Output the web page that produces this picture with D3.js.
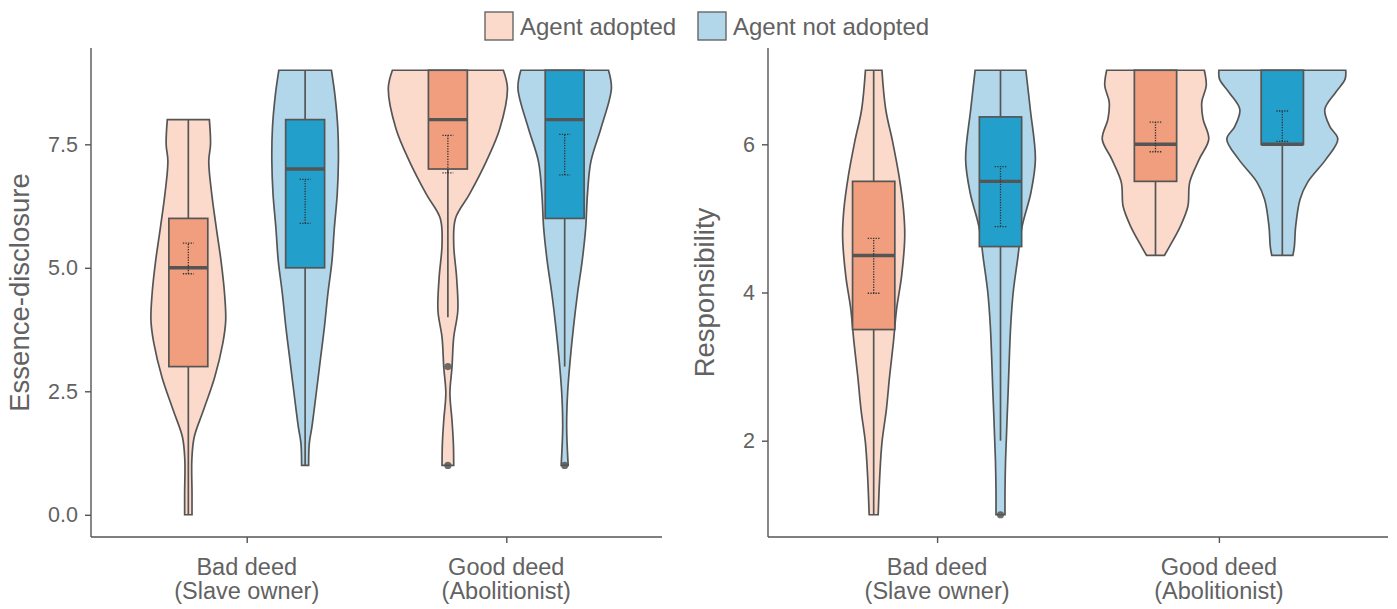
<!DOCTYPE html>
<html>
<head>
<meta charset="utf-8">
<script src="https://cdn.jsdelivr.net/npm/d3@7"></script>
<style>
  body { margin: 0; background: #fff; }
  svg text { font-family: "Liberation Sans", Arial, sans-serif; fill: #626262; }
</style>
</head>
<body>
<svg id="viz"></svg>
<script>
const width = 1397;
const height = 609;

// categories
const deeds = [["Bad deed", "(Slave owner)"], ["Good deed", "(Abolitionist)"]];
const groups = ["Agent adopted", "Agent not adopted"];
const violinFill = ["#fbdacb", "#b3d7ea"];
const boxFill = ["#f09e7e", "#22a0cb"];

// violin outlines: [value, relative half width]
const essBadAdopted = [[8,0.36],[7.5,0.38],[7.16,0.35],[6.5,0.40],[5.8,0.48],[5.14,0.56],[4.48,0.62],[3.93,0.64],[3.47,0.59],[2.78,0.45],[2.12,0.26],[1.57,0.10],[1.11,0.06],[0.44,0.063],[0,0.063]];
const essBadNot = [[9,0.45],[8.5,0.51],[7.82,0.56],[7.16,0.57],[6.5,0.55],[5.8,0.50],[5.14,0.46],[4.48,0.39],[3.8,0.33],[3.13,0.26],[2.46,0.19],[1.77,0.115],[1.45,0.072],[1,0.06]];
const essGoodAdopted = [[9,0.95],[8.63,1.02],[7.82,0.89],[7.16,0.66],[6.49,0.37],[6.0,0.13],[5.48,0.10],[4.8,0.15],[4.13,0.17],[3.59,0.10],[2.98,0.07],[2.46,0.035],[1.92,0.07],[1.45,0.094],[1,0.10]];
const essGoodNot = [[9,0.75],[8.63,0.80],[7.82,0.62],[7.16,0.45],[6.49,0.39],[5.81,0.36],[5.14,0.30],[4.48,0.22],[3.79,0.15],[3.13,0.094],[2.46,0.05],[1.77,0.034],[1,0.06]];

const resBadAdopted = [[7,0.13],[6.47,0.19],[6.03,0.30],[5.57,0.40],[5.12,0.47],[4.76,0.49],[4.22,0.44],[3.77,0.36],[3.32,0.31],[2.86,0.25],[2.42,0.20],[1.97,0.13],[1.51,0.095],[1,0.071]];
const resBadNot = [[7,0.40],[6.47,0.47],[5.80,0.55],[5.35,0.48],[4.89,0.34],[4.45,0.27],[4.0,0.20],[3.54,0.16],[2.65,0.12],[1.74,0.08],[1.3,0.071],[1,0.071]];
const resGoodAdopted = [[7,0.77],[6.79,0.80],[6.57,0.73],[6.34,0.75],[6.07,0.84],[5.80,0.69],[5.49,0.54],[5.16,0.51],[4.89,0.39],[4.62,0.22],[4.5,0.14]];
const resGoodNot = [[7,1.0],[6.88,0.99],[6.70,0.84],[6.47,0.67],[6.24,0.75],[6.07,0.875],[5.80,0.69],[5.49,0.40],[5.26,0.28],[4.89,0.21],[4.62,0.19],[4.5,0.166]];

// box stats: [deed, group, lower whisker, q1, median, q3, upper whisker, outliers, ci low, ci high]
const essBoxes = [
  [0, 0, 0, 3, 5, 6, 8, [], 4.88, 5.5],
  [0, 1, 1, 5, 7, 8, 9, [], 5.9, 6.79],
  [1, 0, 4, 7, 8, 9, 9, [3, 1], 6.92, 7.68],
  [1, 1, 3, 6, 8, 9, 9, [1], 6.88, 7.7]
];
const resBoxes = [
  [0, 0, 1, 3.5, 4.5, 5.5, 7, [], 3.99, 4.73],
  [0, 1, 2, 4.62, 5.5, 6.37, 7, [1], 4.89, 5.7],
  [1, 0, 4.5, 5.5, 6, 7, 7, [], 5.9, 6.3],
  [1, 1, 4.5, 6, 6, 7, 7, [], 6.04, 6.45]
];

const essTicks = [0, 2.5, 5, 7.5];
const resTicks = [2, 4, 6];

const panels = [
  { title: "Essence-disclosure", x0: 91, x1: 662, domain: [-0.45, 9.45], ticks: essTicks, fmt: d3.format(".1f"),
    violins: [[0,0,essBadAdopted],[0,1,essBadNot],[1,0,essGoodAdopted],[1,1,essGoodNot]], boxes: essBoxes, titleX: 20 },
  { title: "Responsibility", x0: 768, x1: 1388, domain: [0.7, 7.3], ticks: resTicks, fmt: d3.format("d"),
    violins: [[0,0,resBadAdopted],[0,1,resBadNot],[1,0,resGoodAdopted],[1,1,resGoodNot]], boxes: resBoxes, titleX: 705 }
];

const yTop = 48, yBottom = 537;
const dodge = 0.225, boxHalf = 0.075, capHalf = 0.021;
const stroke = "#555555";
const lw = 1.7;

const svg = d3.select("#viz").attr("width", width).attr("height", height);

panels.forEach(function (p) {
  const x = d3.scaleLinear().domain([0.4, 2.6]).range([p.x0, p.x1]);
  const y = d3.scaleLinear().domain(p.domain).range([yBottom, yTop]);
  const unit = x(1) - x(0);
  const g = svg.append("g");
  const pos = function (deed, grp) { return x(deed + 1 + (grp === 0 ? -dodge : dodge)); };

  // violins
  p.violins.forEach(function (v) {
    const cx = pos(v[0], v[1]);
    const area = d3.area()
      .curve(d3.curveCatmullRom.alpha(0.5))
      .y(function (d) { return y(d[0]); })
      .x0(function (d) { return cx - d[1] * dodge * unit; })
      .x1(function (d) { return cx + d[1] * dodge * unit; });
    g.append("path")
      .attr("d", area(v[2]))
      .attr("fill", violinFill[v[1]])
      .attr("stroke", stroke)
      .attr("stroke-width", lw);
  });

  // boxplots
  p.boxes.forEach(function (b) {
    const cx = pos(b[0], b[1]);
    const bl = cx - boxHalf * unit, br = cx + boxHalf * unit;
    g.append("line").attr("x1", cx).attr("x2", cx).attr("y1", y(b[5])).attr("y2", y(b[6]))
      .attr("stroke", stroke).attr("stroke-width", lw);
    g.append("line").attr("x1", cx).attr("x2", cx).attr("y1", y(b[3])).attr("y2", y(b[2]))
      .attr("stroke", stroke).attr("stroke-width", lw);
    g.append("rect")
      .attr("x", bl).attr("width", br - bl)
      .attr("y", y(b[5])).attr("height", y(b[3]) - y(b[5]))
      .attr("fill", boxFill[b[1]])
      .attr("stroke", stroke).attr("stroke-width", lw);
    g.append("line").attr("x1", bl).attr("x2", br).attr("y1", y(b[4])).attr("y2", y(b[4]))
      .attr("stroke", stroke).attr("stroke-width", 3.4);
    b[7].forEach(function (o) {
      g.append("circle").attr("cx", cx).attr("cy", y(o)).attr("r", 3.6)
        .attr("fill", "#555").attr("fill-opacity", 0.85);
    });
    // mean confidence interval (dotted)
    const ci = g.append("g").attr("stroke", "#333").attr("stroke-width", 1.3)
      .attr("stroke-dasharray", "1.3,1.3");
    ci.append("line").attr("x1", cx).attr("x2", cx).attr("y1", y(b[8])).attr("y2", y(b[9]));
    [b[8], b[9]].forEach(function (v) {
      ci.append("line").attr("x1", cx - capHalf * unit).attr("x2", cx + capHalf * unit)
        .attr("y1", y(v)).attr("y2", y(v));
    });
  });

  // axes
  const ya = svg.append("g").attr("transform", "translate(" + p.x0 + ",0)")
    .call(d3.axisLeft(y).tickValues(p.ticks).tickFormat(p.fmt).tickSize(6).tickPadding(7));
  ya.select(".domain").attr("d", "M0," + yTop + "V" + yBottom);
  const xa = svg.append("g").attr("transform", "translate(0," + yBottom + ")")
    .call(d3.axisBottom(x).tickValues([1, 2]).tickFormat("").tickSize(6));
  xa.select(".domain").attr("d", "M" + p.x0 + ",0H" + p.x1);
  [ya, xa].forEach(function (a) {
    a.selectAll(".domain").attr("stroke", stroke).attr("stroke-width", 1.4);
    a.selectAll(".tick line").attr("stroke", stroke).attr("stroke-width", 1.4);
  });
  ya.selectAll(".tick text").attr("font-size", 21.5).attr("fill", "#626262")
    .attr("font-family", "Liberation Sans, Arial, sans-serif");

  deeds.forEach(function (lines, i) {
    const t = svg.append("text").attr("x", x(i + 1)).attr("y", 575)
      .attr("text-anchor", "middle").attr("font-size", 23.5);
    lines.forEach(function (l, k) {
      t.append("tspan").attr("x", x(i + 1)).attr("dy", k === 0 ? 0 : 24).text(l);
    });
  });

  svg.append("text")
    .attr("transform", "translate(" + (p.titleX + 9) + "," + ((yTop + yBottom) / 2) + ") rotate(-90)")
    .attr("text-anchor", "middle").attr("font-size", 27.5)
    .text(p.title);
});

// legend
const legendX = [485, 698];
groups.forEach(function (name, i) {
  svg.append("rect").attr("x", legendX[i]).attr("y", 12).attr("width", 28).attr("height", 28)
    .attr("fill", violinFill[i]).attr("stroke", "#666").attr("stroke-width", 1.4);
  svg.append("text").attr("x", legendX[i] + 35).attr("y", 34.5)
    .attr("font-size", 24).text(name);
});
</script>
</body>
</html>
